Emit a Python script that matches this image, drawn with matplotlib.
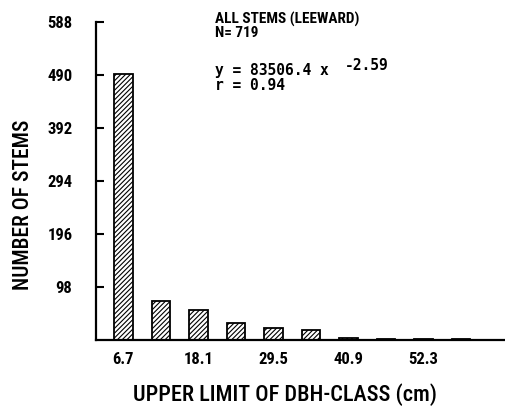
import matplotlib
matplotlib.use("Agg")
import matplotlib.pyplot as plt
import numpy as np

# Stem counts per DBH class (class width 5.7 cm)
class_upper = ["6.7", "12.4", "18.1", "23.8", "29.5", "35.2", "40.9", "46.6", "52.3", "58.0"]
stem_counts = [492, 73, 56, 31, 22, 18, 4, 1, 1, 1]
labelled_classes = ["6.7", "18.1", "29.5", "40.9", "52.3"]
y_ticks = [98, 196, 294, 392, 490, 588]

NARROW = ["Roboto Condensed", "Liberation Sans Narrow", "DejaVu Sans"]
MONO = ["DejaVu Sans Mono"]

plt.rcParams["hatch.linewidth"] = 0.8

fig = plt.figure(figsize=(5.06, 4.12), dpi=100)
W, H = 506, 412
ax = fig.add_axes([96 / W, 1 - 340 / H, 1 - 96 / W, (340 - 22) / H])

x = np.arange(len(stem_counts))
ax.bar(x, stem_counts, width=0.5, color="white", edgecolor="black",
       linewidth=1.3, hatch="///////", zorder=2)

ax.set_xlim(-0.733, 10.2)
ax.set_ylim(0, 588)

for side in ("top", "right"):
    ax.spines[side].set_visible(False)
for side in ("left", "bottom"):
    ax.spines[side].set_linewidth(1.6)

ax.set_yticks(y_ticks)
ax.set_yticklabels([str(v) for v in y_ticks])
ax.tick_params(axis="y", direction="in", length=6, width=1.5, pad=17)

tick_pos = [class_upper.index(c) for c in labelled_classes]
ax.set_xticks(tick_pos)
ax.set_xticklabels(labelled_classes)
ax.tick_params(axis="x", length=0, pad=9)

for lab in ax.get_xticklabels() + ax.get_yticklabels():
    lab.set_fontfamily(NARROW)
    lab.set_fontsize(12)
    lab.set_fontweight("bold")

fig.text(285 / W, 1 - 395 / H, "UPPER LIMIT OF DBH-CLASS (cm)",
         family=NARROW, fontsize=16, fontweight="medium", ha="center", va="center")
fig.text(23 / W, 1 - 205 / H, "NUMBER OF STEMS",
         family=NARROW, fontsize=15.5, fontweight="medium", ha="center", va="center",
         rotation=90)

fig.text(215 / W, 1 - 19 / H, "ALL STEMS (LEEWARD)",
         family=NARROW, fontsize=11, fontweight="bold", ha="left", va="center")
fig.text(215 / W, 1 - 33 / H, "N= 719",
         family=NARROW, fontsize=11, fontweight="bold", ha="left", va="center")
fig.text(215 / W, 1 - 71 / H, "y = 83506.4 x",
         family=MONO, fontsize=10.5, fontweight="bold", ha="left", va="center")
fig.text(345 / W, 1 - 65 / H, "-2.59",
         family=MONO, fontsize=10.5, fontweight="bold", ha="left", va="center")
fig.text(215 / W, 1 - 85 / H, "r = 0.94",
         family=MONO, fontsize=10.5, fontweight="bold", ha="left", va="center")

fig.savefig("out.png", dpi=100)
